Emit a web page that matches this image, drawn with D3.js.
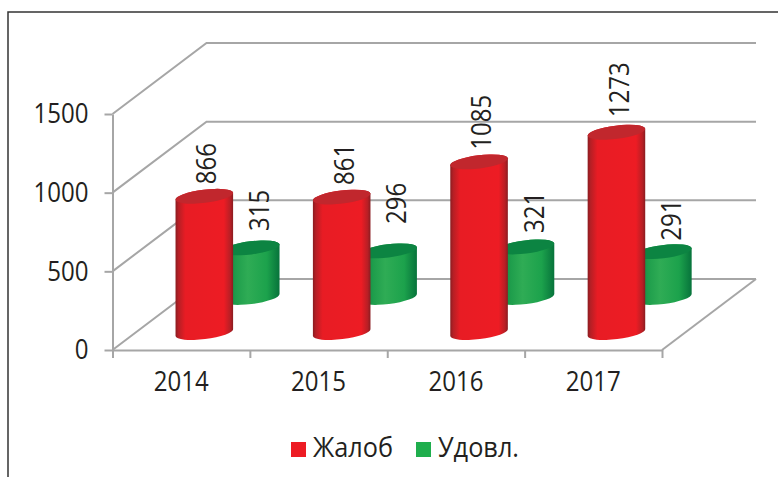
<!DOCTYPE html>
<html>
<head>
<meta charset="utf-8">
<style>
  body { margin: 0; background: #fff; }
  text { font-family: "Open Sans", sans-serif; fill: #231f20; }
  .grid { stroke: #a6a6a6; stroke-width: 2; fill: none; }
  .axis path, .axis line { stroke: #a6a6a6; stroke-width: 2; }
</style>
</head>
<body>
<div id="chart"></div>
<script src="https://cdn.jsdelivr.net/npm/d3@7"></script>
<script>
const years = ["2014", "2015", "2016", "2017"];
const complaints = [866, 861, 1085, 1273];
const satisfied = [315, 296, 321, 291];
const yTicks = [0, 500, 1000, 1500];

const width = 778, height = 477;
const digitW = 13.75; // reference font is narrower than Open Sans
const depthX = 94, depthY = -71; // floor offset, front edge to back wall
const rx = 29, ry = 6.6, tilt = -7;

// gap between cylinder top and its label, not even in the reference
const redGap = [12, 12, 12, 15];
const greenGap = [17, 27, 14, 11];

const svg = d3
  .select("#chart")
  .append("svg")
  .attr("width", width)
  .attr("height", height);

const x = d3.scaleBand().domain(years).range([112.5, 662]);
const y = d3.scaleLinear().domain([0, 1500]).range([350, 114]);

// gradients for the cylinder sides
const defs = svg.append("defs");
function addGradient(id, stops) {
  const g = defs.append("linearGradient").attr("id", id);
  stops.forEach(function(s) {
    g.append("stop").attr("offset", s[0]).attr("stop-color", s[1]);
  });
}
addGradient("redSide", [
  [0, "#8a1c20"], [0.05, "#b51f25"], [0.17, "#e81c24"],
  [0.84, "#ed1c24"], [0.95, "#b81f25"], [1, "#8a1c20"]
]);
addGradient("greenSide", [
  [0, "#0b7a3e"], [0.25, "#1f9e4c"], [0.45, "#2fac55"],
  [0.78, "#1ca24c"], [1, "#07733b"]
]);

// picture frame
svg.append("path")
  .attr("d", "M8,477V12H778")
  .attr("fill", "none")
  .attr("stroke", "#333")
  .attr("stroke-width", 1.5);

// walls and floor
const walls = svg.append("g");
yTicks.forEach(function(t) {
  walls.append("path")
    .attr("class", "grid")
    .attr("d", d3.line()([
      [x.range()[0], y(t)],
      [x.range()[0] + depthX, y(t) + depthY],
      [x.range()[1] + depthX, y(t) + depthY]
    ]));
});
walls.append("path")
  .attr("class", "grid")
  .attr("d", d3.line()([
    [x.range()[1], y(0)],
    [x.range()[1] + depthX, y(0) + depthY]
  ]));

const yAxis = d3.axisLeft(y)
  .tickValues(yTicks)
  .tickFormat(d3.format("d"))
  .tickSize(8)
  .tickPadding(16)
  .tickSizeOuter(0);
svg.append("g")
  .attr("class", "axis")
  .attr("transform", "translate(" + x.range()[0] + ",0)")
  .call(yAxis)
  .selectAll("text")
  .style("font-size", "28px")
  .attr("textLength", function(d) { return String(d).length * digitW; })
  .attr("lengthAdjust", "spacingAndGlyphs");

// category ticks sit on band edges, labels on band centres
const xEdges = d3.scaleLinear().domain([0, years.length]).range(x.range());
const xAxis = d3.axisBottom(xEdges).ticks(years.length).tickFormat("").tickSize(8).tickSizeOuter(0);
svg.append("g")
  .attr("class", "axis")
  .attr("transform", "translate(0," + y(0) + ")")
  .call(xAxis);

svg.append("g")
  .selectAll("text")
  .data(years)
  .join("text")
  .attr("x", function(d) { return x(d) + x.bandwidth() / 2; })
  .attr("y", 391)
  .attr("text-anchor", "middle")
  .attr("textLength", 4 * digitW)
  .attr("lengthAdjust", "spacingAndGlyphs")
  .style("font-size", "28px")
  .text(function(d) { return d; });

// one cylinder; depth is the share of the floor in front of it
function drawCylinder(g, year, value, depth, sideFill, topFill) {
  const cx = x(year) + x.bandwidth() / 2 + depth * depthX;
  const yBase = y(0) + depth * depthY;
  const yTop = y(value) + depth * depthY;
  const a = (tilt * Math.PI) / 180;
  const dx = rx * Math.cos(a), dy = rx * Math.sin(a);
  const arc = "A" + rx + "," + ry + " " + tilt + " 0 ";
  g.append("path")
    .attr("fill", sideFill)
    .attr("d",
      "M" + (cx - dx) + "," + (yTop - dy) +
      "L" + (cx - dx) + "," + (yBase - dy) +
      arc + "0 " + (cx + dx) + "," + (yBase + dy) +
      "L" + (cx + dx) + "," + (yTop + dy) +
      arc + "0 " + (cx - dx) + "," + (yTop - dy) + "Z");
  g.append("ellipse")
    .attr("rx", rx)
    .attr("ry", ry)
    .attr("fill", topFill)
    .attr("transform", "translate(" + cx + "," + yTop + ") rotate(" + tilt + ")");
  return { cx: cx, yTop: yTop };
}

function drawLabel(g, value, px, py) {
  g.append("text")
    .attr("transform", "translate(" + px + "," + py + ") rotate(-90)")
    .attr("dy", "0.36em")
    .attr("textLength", String(value).length * digitW)
    .attr("lengthAdjust", "spacingAndGlyphs")
    .style("font-size", "28px")
    .text(value);
}

// green stands behind red, so it goes first
const bars = svg.append("g");
years.forEach(function(year, i) {
  const g = bars.append("g");
  const back = drawCylinder(g, year, satisfied[i], 0.74, "url(#greenSide)", "#0c8442");
  drawLabel(g, satisfied[i], back.cx + 8, back.yTop - greenGap[i]);
  const front = drawCylinder(g, year, complaints[i], 0.246, "url(#redSide)", "#c1272d");
  drawLabel(g, complaints[i], front.cx + 2, front.yTop - redGap[i]);
});

// legend
const legend = svg.append("g");
const legendItems = [
  { name: "Жалоб", color: "#ed1c24", x: 291, w: 80 },
  { name: "Удовл.", color: "#1fae4d", x: 416, w: 81 }
];
legendItems.forEach(function(d) {
  legend.append("rect")
    .attr("x", d.x)
    .attr("y", 442)
    .attr("width", 15)
    .attr("height", 15)
    .attr("fill", d.color);
  legend.append("text")
    .attr("x", d.x + 22)
    .attr("y", 457)
    .attr("textLength", d.w)
    .attr("lengthAdjust", "spacingAndGlyphs")
    .style("font-size", "28px")
    .text(d.name);
});
</script>
</body>
</html>
